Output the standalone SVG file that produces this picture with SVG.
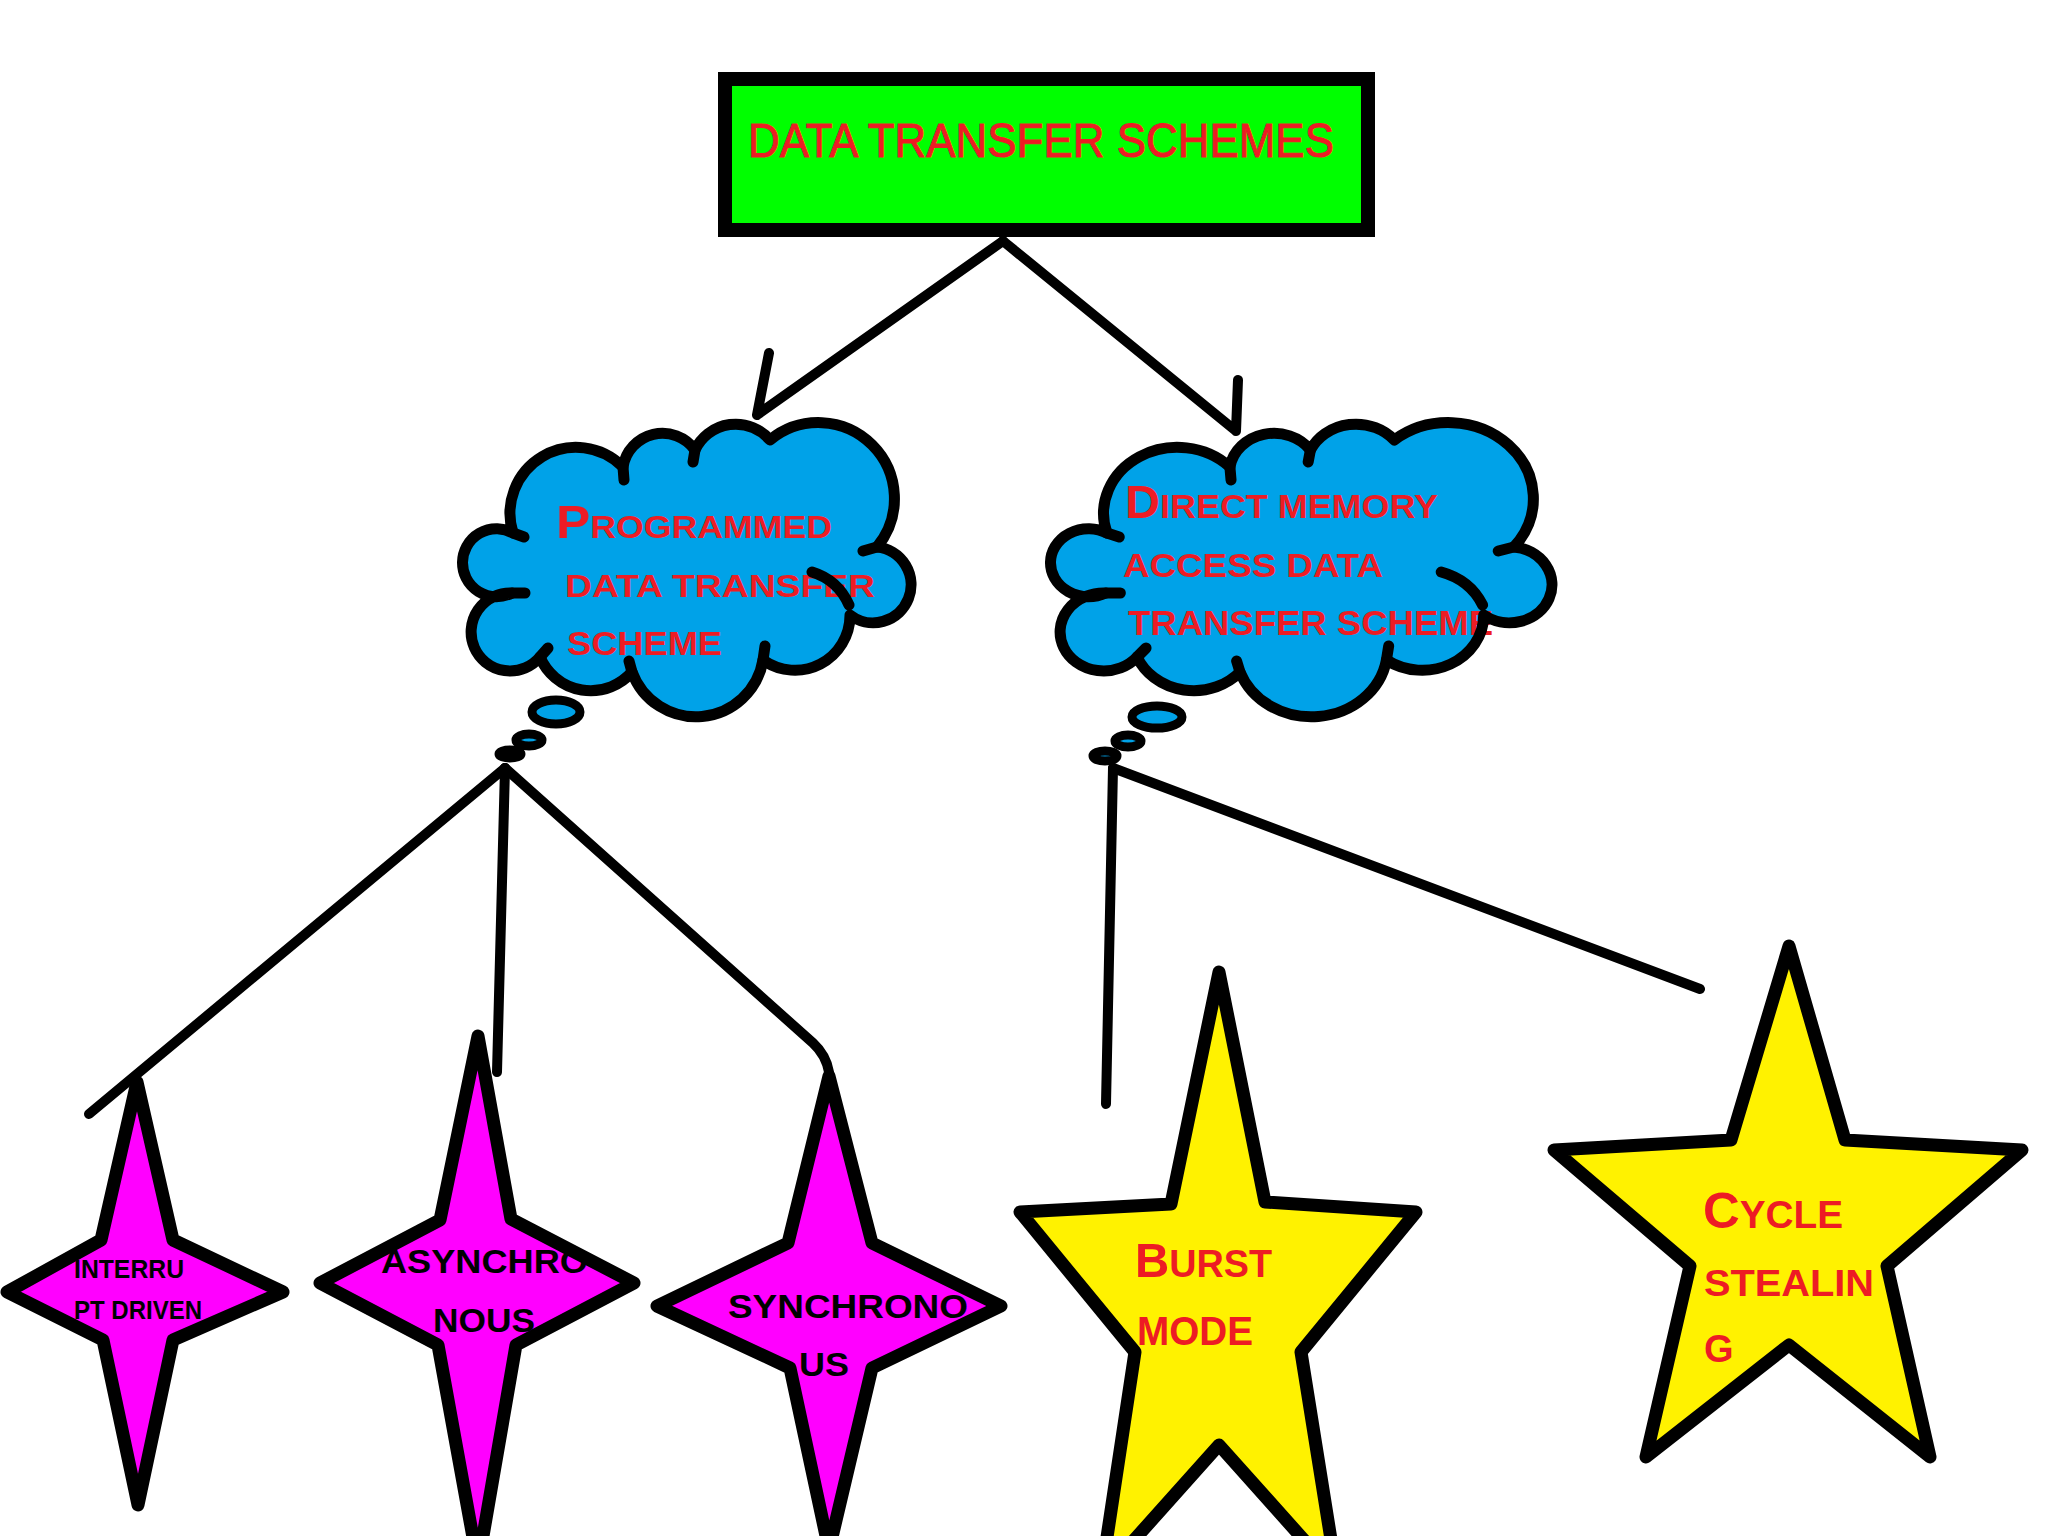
<svg xmlns="http://www.w3.org/2000/svg" width="2048" height="1536" viewBox="0 0 2048 1536">
<defs>
<style>
.conn{stroke:#000;stroke-width:10;stroke-linecap:round;stroke-linejoin:round;fill:none}
.outline{fill:none;stroke:#000;stroke-width:13;stroke-linejoin:round}
.cfill{fill:#00a2e8;stroke:none}
.cline{fill:none;stroke:#000;stroke-width:11;stroke-linejoin:round;stroke-linecap:round}
.bub{fill:#00a2e8;stroke:#000;stroke-width:9}
.red{fill:#ed1c24;font-family:"Liberation Sans",Arial,sans-serif}
.rb{font-weight:bold}
.blk{fill:#000;font-family:"Liberation Sans",Arial,sans-serif;font-weight:bold}
.mag{fill:#ff00ff;stroke:none}
.yel{fill:#fff200;stroke:none}
</style>
<path id="cloud" vector-effect="non-scaling-stroke" d="M 513 533 A 66 66 0 0 1 623 467 A 40 40 0 0 1 695 450 A 45 45 0 0 1 770 440 A 76 76 0 0 1 877 547 A 38 38 0 1 1 850 615 A 55 55 0 0 1 763 660 A 68 68 0 0 1 632 672 A 55 55 0 0 1 540 657 A 39 39 0 1 1 512 593 A 34 34 0 1 1 513 533 Z"/>
<path id="ticks" vector-effect="non-scaling-stroke" d="M 513 533 L 524 537 M 623 467 L 624 480 M 695 450 L 693 462 M 877 547 L 863 551 M 812 572 Q 838 580 849 605 M 763 660 L 765 646 M 632 672 L 629 661 M 540 657 L 548 648 M 512 593 L 525 593"/>
<polygon id="s1" points="137,1082 173,1240 283,1292 173,1340 138,1505 103,1340 7,1292 101,1240"/>
<polygon id="s2" points="478,1036 511,1219 634,1283 516,1345 478,1565 438,1345 320,1283 440,1220"/>
<polygon id="s3" points="829,1076 872,1243 1001,1306 872,1368 829,1550 790,1368 657,1306 788,1243"/>
<polygon id="s4" points="1219,972 1265,1202 1416,1212 1301,1352 1337,1577 1219,1445 1101,1577 1135,1352 1020,1212 1171,1204"/>
<polygon id="s5" points="1789,946 1845,1140 2022,1150 1887,1266 1930,1457 1789,1345 1646,1457 1690,1266 1554,1150 1731,1140"/>
</defs>
<rect x="0" y="0" width="2048" height="1536" fill="#ffffff"/>

<g id="node-root">
<rect x="725" y="79" width="643" height="151" fill="#00ff00" stroke="#000" stroke-width="14"/>
<text class="red" x="748" y="157" font-size="48" stroke="#ed1c24" stroke-width="1" textLength="586" lengthAdjust="spacingAndGlyphs">DATA TRANSFER SCHEMES</text>
</g>

<g id="node-programmed">
<use href="#cloud" class="cfill"/>
<text class="red rb" x="556" y="538" textLength="276" lengthAdjust="spacingAndGlyphs"><tspan font-size="46">P</tspan><tspan font-size="32">ROGRAMMED</tspan></text>
<text class="red rb" x="565" y="597" font-size="32" textLength="310" lengthAdjust="spacingAndGlyphs">DATA TRANSFER</text>
<text class="red rb" x="567" y="655" font-size="33" textLength="155" lengthAdjust="spacingAndGlyphs">SCHEME</text>
<use href="#cloud" class="cline"/>
<use href="#ticks" class="cline"/>
<ellipse class="bub" cx="556" cy="712" rx="24" ry="12"/>
<ellipse class="bub" cx="529" cy="740" rx="13" ry="6"/>
<ellipse class="bub" cx="510" cy="754" rx="11" ry="4"/>
</g>

<g id="node-dma">
<use href="#cloud" class="cfill" transform="translate(533.4 0) scale(1.118 1)"/>
<text class="red rb" x="1125" y="518" textLength="313" lengthAdjust="spacingAndGlyphs"><tspan font-size="46">D</tspan><tspan font-size="34">IRECT MEMORY</tspan></text>
<text class="red rb" x="1123" y="577" font-size="34" textLength="260" lengthAdjust="spacingAndGlyphs">ACCESS DATA</text>
<text class="red rb" x="1128" y="635" font-size="35" textLength="365" lengthAdjust="spacingAndGlyphs">TRANSFER SCHEME</text>
<use href="#cloud" class="cline" transform="translate(533.4 0) scale(1.118 1)"/>
<use href="#ticks" class="cline" transform="translate(533.4 0) scale(1.118 1)"/>
<ellipse class="bub" cx="1157" cy="717" rx="25" ry="11"/>
<ellipse class="bub" cx="1128" cy="741" rx="13" ry="6"/>
<ellipse class="bub" cx="1105" cy="756" rx="12" ry="5"/>
</g>

<g id="node-interrupt">
<use href="#s1" class="mag"/>
<text class="blk" x="74" y="1278" font-size="25" textLength="110" lengthAdjust="spacingAndGlyphs">INTERRU</text>
<text class="blk" x="74" y="1319" font-size="25" textLength="128" lengthAdjust="spacingAndGlyphs">PT DRIVEN</text>
<use href="#s1" class="outline"/>
</g>

<g id="node-async">
<use href="#s2" class="mag"/>
<text class="blk" x="381" y="1273" font-size="33" textLength="207" lengthAdjust="spacingAndGlyphs">ASYNCHRO</text>
<text class="blk" x="433" y="1332" font-size="33" textLength="102" lengthAdjust="spacingAndGlyphs">NOUS</text>
<use href="#s2" class="outline"/>
</g>

<g id="node-sync">
<use href="#s3" class="mag"/>
<text class="blk" x="728" y="1318" font-size="34" textLength="240" lengthAdjust="spacingAndGlyphs">SYNCHRONO</text>
<text class="blk" x="799" y="1376" font-size="34" textLength="50" lengthAdjust="spacingAndGlyphs">US</text>
<use href="#s3" class="outline"/>
</g>

<g id="node-burst">
<use href="#s4" class="yel"/>
<text class="red rb" x="1135" y="1277" textLength="137" lengthAdjust="spacingAndGlyphs"><tspan font-size="49">B</tspan><tspan font-size="39">URST</tspan></text>
<text class="red rb" x="1137" y="1345" font-size="40" textLength="116" lengthAdjust="spacingAndGlyphs">MODE</text>
<use href="#s4" class="outline"/>
</g>

<g id="node-cycle">
<use href="#s5" class="yel"/>
<text class="red rb" x="1703" y="1228" textLength="140" lengthAdjust="spacingAndGlyphs"><tspan font-size="50">C</tspan><tspan font-size="38">YCLE</tspan></text>
<text class="red rb" x="1704" y="1296" font-size="37" textLength="170" lengthAdjust="spacingAndGlyphs">STEALIN</text>
<text class="red rb" x="1704" y="1362" font-size="38">G</text>
<use href="#s5" class="outline"/>
</g>

<g id="connectors">
<path class="conn" d="M 1003 241 L 757 415 M 769 353 L 757 415"/>
<path class="conn" d="M 1003 241 L 1236 431 M 1238 380 L 1236 431"/>
<path class="conn" d="M 505 768 L 89 1114"/>
<path class="conn" d="M 505 768 L 497 1072"/>
<path class="conn" d="M 505 768 L 813 1043 Q 826 1055 829 1072"/>
<path class="conn" d="M 1113 768 L 1106 1104"/>
<path class="conn" d="M 1113 768 L 1700 989"/>
</g>
</svg>
